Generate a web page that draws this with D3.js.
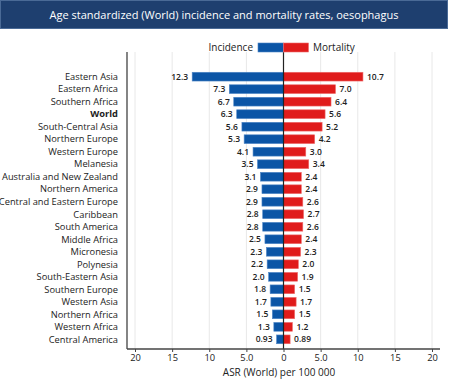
<!DOCTYPE html>
<html>
<head>
<meta charset="utf-8">
<script src="https://cdn.jsdelivr.net/npm/d3@7"></script>
<style>
  body { margin: 0; background: #fff; }
  svg { font-family: "Open Sans", "Noto Sans", sans-serif; }
</style>
</head>
<body>
<div id="chart"></div>
<script>
// data
var regions = ["Eastern Asia", "Eastern Africa", "Southern Africa", "World", "South-Central Asia",
  "Northern Europe", "Western Europe", "Melanesia", "Australia and New Zealand", "Northern America",
  "Central and Eastern Europe", "Caribbean", "South America", "Middle Africa", "Micronesia",
  "Polynesia", "South-Eastern Asia", "Southern Europe", "Western Asia", "Northern Africa",
  "Western Africa", "Central America"];
var incidence = [12.3, 7.3, 6.7, 6.3, 5.6, 5.3, 4.1, 3.5, 3.1, 2.9, 2.9, 2.8, 2.8, 2.5, 2.3, 2.2, 2.0, 1.8, 1.7, 1.5, 1.3, 0.93];
var mortality = [10.7, 7.0, 6.4, 5.6, 5.2, 4.2, 3.0, 3.4, 2.4, 2.4, 2.6, 2.7, 2.6, 2.4, 2.3, 2.0, 1.9, 1.5, 1.7, 1.5, 1.2, 0.89];
var incLabels = ["12.3", "7.3", "6.7", "6.3", "5.6", "5.3", "4.1", "3.5", "3.1", "2.9", "2.9", "2.8", "2.8", "2.5", "2.3", "2.2", "2.0", "1.8", "1.7", "1.5", "1.3", "0.93"];
var morLabels = ["10.7", "7.0", "6.4", "5.6", "5.2", "4.2", "3.0", "3.4", "2.4", "2.4", "2.6", "2.7", "2.6", "2.4", "2.3", "2.0", "1.9", "1.5", "1.7", "1.5", "1.2", "0.89"];
var tickValues = [-20, -15, -10, -5, 0, 5, 10, 15, 20];
var tickLabels = ["20", "15", "10", "5.0", "0", "5.0", "10", "15", "20"];

var W = 450, H = 389;
var blue = "#0b55a6", red = "#e01b1b";

var svg = d3.select("#chart").append("svg")
  .attr("width", W).attr("height", H);

// title band
svg.append("rect")
  .attr("x", 0.5).attr("y", 0.5).attr("width", 447).attr("height", 28)
  .attr("fill", "#1e3f6f").attr("stroke", "#4a6a96").attr("stroke-width", 1);
svg.append("text")
  .attr("x", 224).attr("y", 19)
  .attr("text-anchor", "middle")
  .attr("fill", "#fff")
  .attr("font-size", 11)
  .text("Age standardized (World) incidence and mortality rates, oesophagus");

var plotTop = 52, plotBottom = 349, plotLeft = 127, plotRight = 440;

var x = d3.scaleLinear().domain([-20, 20]).range([135, 432]);
var y = d3.scaleBand().domain(regions).range([70.4, 345.6]).paddingInner(0.3).paddingOuter(0.15);

// grid
svg.append("g").selectAll("line")
  .data(tickValues.filter(function(d) { return d != 0; }))
  .enter().append("line")
  .attr("x1", function(d) { return x(d); }).attr("x2", function(d) { return x(d); })
  .attr("y1", plotTop).attr("y2", plotBottom)
  .attr("stroke", "#e8e8e8").attr("stroke-width", 1);

// bars
var rows = regions.map(function(r, i) {
  return { name: r, inc: incidence[i], mor: mortality[i], incL: incLabels[i], morL: morLabels[i] };
});

svg.append("g").selectAll("rect")
  .data(rows).enter().append("rect")
  .attr("x", function(d) { return x(-d.inc); })
  .attr("y", function(d) { return y(d.name); })
  .attr("width", function(d) { return x(0) - x(-d.inc); })
  .attr("height", y.bandwidth())
  .attr("fill", blue).attr("stroke", "#4f86c6").attr("stroke-width", 0.6);

svg.append("g").selectAll("rect")
  .data(rows).enter().append("rect")
  .attr("x", x(0))
  .attr("y", function(d) { return y(d.name); })
  .attr("width", function(d) { return x(d.mor) - x(0); })
  .attr("height", y.bandwidth())
  .attr("fill", red).attr("stroke", "#ef6b6b").attr("stroke-width", 0.6);

// value labels
svg.append("g").selectAll("text")
  .data(rows).enter().append("text")
  .attr("x", function(d) { return x(-d.inc) - 4; })
  .attr("y", function(d) { return y(d.name) + y.bandwidth() / 2; })
  .attr("dy", "0.35em")
  .attr("text-anchor", "end")
  .attr("font-size", 8.5).attr("font-weight", 600).attr("fill", "#222")
  .text(function(d) { return d.incL; });

svg.append("g").selectAll("text")
  .data(rows).enter().append("text")
  .attr("x", function(d) { return x(d.mor) + 4; })
  .attr("y", function(d) { return y(d.name) + y.bandwidth() / 2; })
  .attr("dy", "0.35em")
  .attr("font-size", 8.5).attr("font-weight", 600).attr("fill", "#222")
  .text(function(d) { return d.morL; });

// category labels
svg.append("g").selectAll("text")
  .data(regions).enter().append("text")
  .attr("x", plotLeft - 9)
  .attr("y", function(d) { return y(d) + y.bandwidth() / 2; })
  .attr("dy", "0.35em")
  .attr("text-anchor", "end")
  .attr("font-size", 9.3)
  .attr("font-weight", function(d) { return d == "World" ? 700 : 400; })
  .attr("fill", "#222")
  .text(function(d) { return d; });

// axes lines
svg.append("line").attr("x1", plotLeft).attr("x2", plotLeft).attr("y1", plotTop).attr("y2", plotBottom)
  .attr("stroke", "#333").attr("stroke-width", 1.2);
svg.append("line").attr("x1", x(0)).attr("x2", x(0)).attr("y1", plotTop).attr("y2", plotBottom)
  .attr("stroke", "#222").attr("stroke-width", 1.2);

var xAxis = svg.append("g")
  .attr("transform", "translate(0," + plotBottom + ")")
  .call(d3.axisBottom(x).tickValues(tickValues).tickSize(3)
    .tickFormat(function(d, i) { return tickLabels[i]; }));
xAxis.select(".domain").attr("d", "M" + plotLeft + ",0H" + plotRight).attr("stroke", "#444").attr("stroke-width", 1.5);
xAxis.selectAll(".tick line").attr("stroke", "#444");
xAxis.selectAll("text").attr("font-size", 9.3).attr("fill", "#222")
  .attr("font-family", "'Open Sans', 'Noto Sans', sans-serif").attr("y", 5);

svg.append("text")
  .attr("x", 279).attr("y", 376)
  .attr("text-anchor", "middle")
  .attr("font-size", 10).attr("fill", "#222")
  .text("ASR (World) per 100 000");

// legend
svg.append("rect").attr("x", 258).attr("y", 43).attr("width", 25.5).attr("height", 9)
  .attr("fill", blue).attr("stroke", "#4f86c6").attr("stroke-width", 0.6);
svg.append("rect").attr("x", 283.5).attr("y", 43).attr("width", 25).attr("height", 9)
  .attr("fill", red).attr("stroke", "#ef6b6b").attr("stroke-width", 0.6);
svg.append("text").attr("x", 253).attr("y", 51).attr("text-anchor", "end")
  .attr("font-size", 10).attr("fill", "#222").text("Incidence");
svg.append("text").attr("x", 313).attr("y", 51)
  .attr("font-size", 10).attr("fill", "#222").text("Mortality");
</script>
</body>
</html>
